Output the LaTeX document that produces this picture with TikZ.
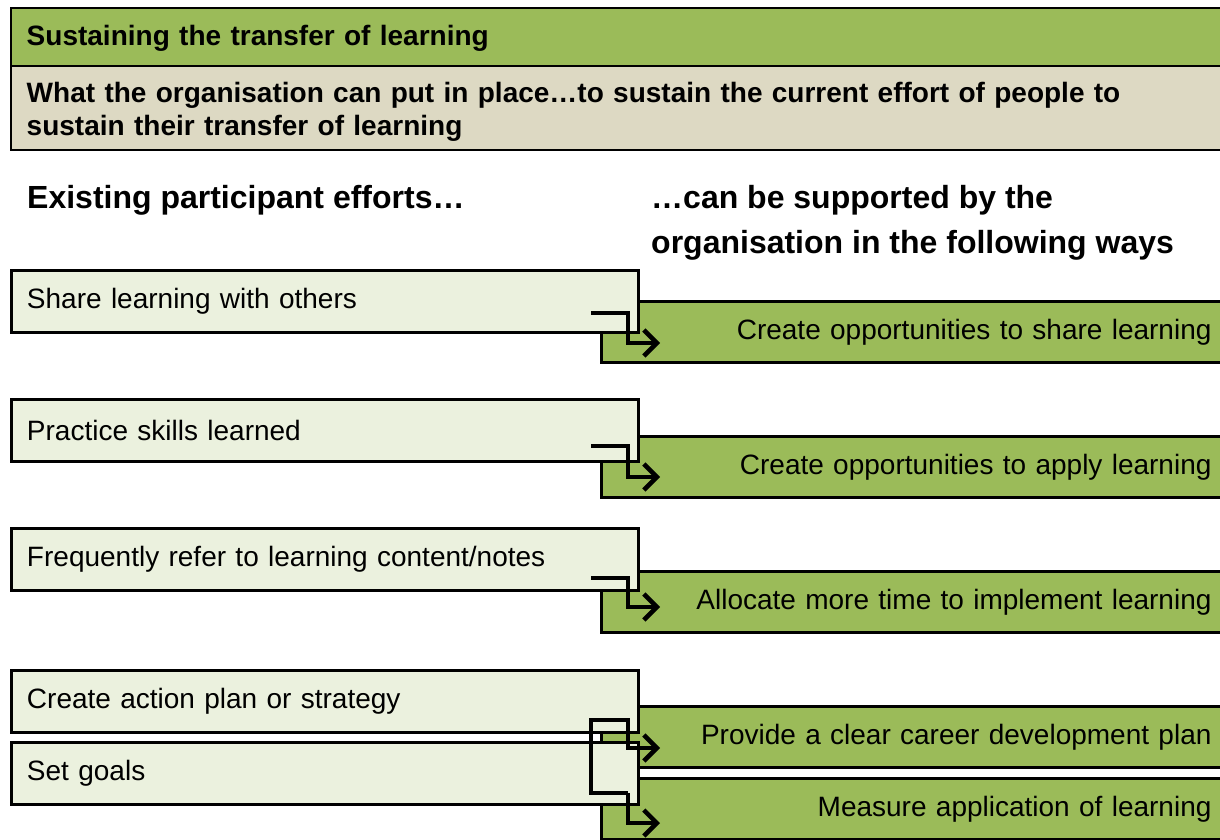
\documentclass[tikz,border=0pt]{standalone}
\usepackage{fontspec}
\setmainfont{Liberation Sans}
\usetikzlibrary{arrows.meta}
\definecolor{olive}{HTML}{9BBB59}
\definecolor{tan}{HTML}{DDD9C3}
\definecolor{pale}{HTML}{EBF1DE}
\newcommand\boxsize{\fontsize{28}{33}\selectfont}
\newcommand\capsize{\fontsize{32}{45}\selectfont}

\begin{document}
\begin{tikzpicture}[x=1pt,y=-1pt,
   band/.style={draw=black,line width=1.5pt,anchor=west,inner xsep=16pt,
                text width=1206pt,align=left,font=\boxsize\bfseries},
   effort/.style={draw=black,line width=3pt,fill=pale,anchor=west,inner xsep=15.5pt,
                  text width=596pt,align=left,minimum height=62pt,font=\boxsize},
   way/.style={draw=black,line width=3pt,fill=olive,anchor=west,inner xsep=15pt,
               text width=595pt,align=right,minimum height=61pt,font=\boxsize},
   link/.style={line width=4.5pt,-{Straight Barb[length=13pt,width=26pt]}}]
 \useasboundingbox (0,0) rectangle (1220,840);
 \clip (0,0) rectangle (1220,840);
 % headings
 \node[band,fill=olive,minimum height=58pt,text depth=4pt] (head) at (10,37)
   {Sustaining the transfer of learning};
 \node[band,fill=tan,minimum height=84pt] (sub) at (10,108)
   {\rule{0pt}{27pt}What the organisation can put in place\dots to sustain the current effort of people to\\
    sustain their transfer of learning};
 \node[anchor=west,inner sep=0pt,font=\capsize\bfseries] (leftcap) at (27,200)
   {Existing participant efforts\dots};
 \node[anchor=west,inner sep=0pt,align=left,font=\capsize\bfseries] (rightcap) at (651,222.5)
   {\dots can be supported by the\\organisation in the following ways};
 % organisation
 \node[way] (way1) at (600,332) {Create opportunities to share learning};
 \node[way] (way2) at (600,467) {Create opportunities to apply learning};
 \node[way] (way3) at (600,602) {Allocate more time to implement learning};
 \node[way] (way4) at (600,737) {Provide a clear career development plan};
 \node[way] (way5) at (600,809) {Measure application of learning};
 % participants
 \node[effort] (eff1) at (10,301) {Share learning with others};
 \node[effort] (eff2) at (10,430) {Practice skills learned};
 \node[effort] (eff3) at (10,559) {Frequently refer to learning content/notes};
 \node[effort] (eff4) at (10,701) {Create action plan or strategy};
 \node[effort] (eff5) at (10,773) {Set goals};
 % links
 \draw[link] ([xshift=-49pt,yshift=-12pt]eff1.east) -- ++(37,0) |- ([xshift=60pt,yshift=-11pt]way1.west);
 \draw[link] ([xshift=-49pt,yshift=-16pt]eff2.east) -- ++(37,0) |- ([xshift=60pt,yshift=-10pt]way2.west);
 \draw[link] ([xshift=-49pt,yshift=-19pt]eff3.east) -- ++(37,0) |- ([xshift=60pt,yshift=-5pt]way3.west);
 \draw[link] ([xshift=-12pt,yshift=-20pt]eff5.east) -- ([xshift=-49pt,yshift=-20pt]eff5.east)
   |- ([xshift=-12pt,yshift=-19pt]eff4.east) |- ([xshift=60pt,yshift=-11pt]way4.west);
 \draw[link] ([xshift=-12pt,yshift=-20pt]eff5.east) |- ([xshift=60pt,yshift=-14pt]way5.west);
\end{tikzpicture}
\end{document}
